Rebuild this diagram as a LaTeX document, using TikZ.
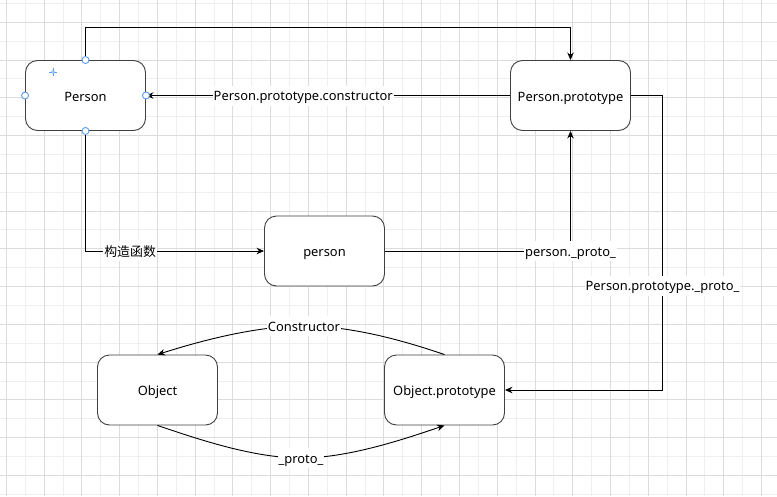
\documentclass[tikz,border=0pt]{standalone}
\usepackage{fontspec}
\setmainfont{Noto Sans}
\newfontfamily\cjk{Noto Sans CJK SC}
\usetikzlibrary{arrows.meta,calc}
\definecolor{gridlight}{HTML}{EFEFEF}
\definecolor{griddark}{HTML}{DCDCDC}
\definecolor{handle}{HTML}{5B9BF0}
\begin{document}
\begin{tikzpicture}[x=1pt,y=-1pt,
  box/.style={draw=black!75, line width=0.9pt, rounded corners=12pt, minimum width=120pt, minimum height=70pt, fill=white, font=\fontsize{12.9}{15}\selectfont, inner sep=0pt, text height=12pt, text depth=1pt},
  arr/.style={draw=black, line width=0.9pt, -{Stealth[length=7.5pt,width=6.5pt]}},
  lbl/.style={fill=white, inner sep=1pt, font=\fontsize{12.9}{15}\selectfont, text height=14pt, text depth=4pt},
  hdl/.style={circle, draw=handle, fill=white, line width=0.9pt, minimum size=7pt, inner sep=0pt}]
\useasboundingbox (0,0) rectangle (777,496);
\fill[white] (0,0) rectangle (777,496);
% grid: light lines
\foreach \k in {1,3,...,39} {\draw[gridlight, line width=0.8pt] ({6.26+18.88*\k},0) -- ({6.26+18.88*\k},496);}
\foreach \k in {0,2,...,26} {\draw[gridlight, line width=0.8pt] (0,{3.3+18.88*\k}) -- (777,{3.3+18.88*\k});}
% grid: dark lines
\foreach \k in {0,2,...,40} {\draw[griddark, line width=0.8pt] ({6.26+18.88*\k},0) -- ({6.26+18.88*\k},496);}
\foreach \k in {1,3,...,25} {\draw[griddark, line width=0.8pt] (0,{3.3+18.88*\k}) -- (777,{3.3+18.88*\k});}

% boxes
\node[box] (P) at (85.5,95.5) {Person};
\node[box] (PP) at (570.5,95.5) {Person.prototype};
\node[box] (per) at (324.5,251) {person};
\node[box] (O) at (157.5,390) {Object};
\node[box] (OP) at (444.5,390) {Object.prototype};

% connectors
\draw[arr] (P.north) -- ++(0,-33) -| (PP.north);
\draw[arr] (PP.west) -- node[lbl,pos=0.568]{Person.prototype.constructor} (P.east);
\draw[arr] (P.south) |- node[lbl,pos=0.625]{\cjk 构造函数} (per.west);
\draw[arr] (per.east) -| node[lbl,pos=0.5]{person.\_proto\_} (PP.south);
\draw[arr] (PP.east) -- ++(31.5,0) |- node[lbl,pos=0.323]{Person.prototype.\_proto\_} (OP.east);
\draw[arr] (OP.north) .. controls +(-44,-15) and +(46,0) .. (304,326) node[lbl]{Constructor} .. controls +(-46,0) and +(47,-15) .. (O.north);
\draw[arr] (O.south) .. controls +(44,15) and +(-46,0) .. (301,458) node[lbl]{\_proto\_} .. controls +(46,0) and +(-44,15) .. (OP.south);

% selection handles on Person
\node[hdl] (h1) at (P.north) {};
\node[hdl] (h2) at (P.south) {};
\node[hdl] (h3) at (P.west) {};
\node[hdl] (h4) at (P.east) {};
\draw[handle, line width=0.8pt] (49,72) -- (57,72) (53,68) -- (53,76);
\draw[handle, line width=0.6pt, fill=white] (53,72) circle (1.5);
\end{tikzpicture}
\end{document}
